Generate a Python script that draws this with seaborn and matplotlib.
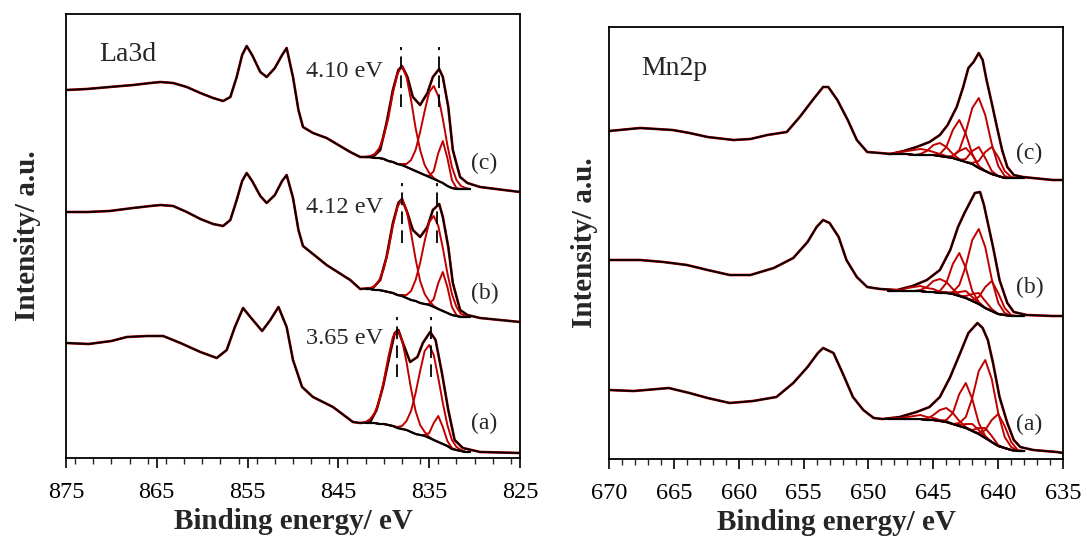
import numpy as np
import matplotlib.pyplot as plt
from matplotlib.ticker import MultipleLocator
import seaborn as sns

# ---------------- La3d panel ----------------
la_ticks = [875, 865, 855, 845, 835, 825]

la_c_e = [875.0, 872.7, 870.2, 867.6, 865.7, 864.6, 863.2, 861.7, 860.2, 858.8, 857.7, 856.9, 856.2, 855.6,
          855.1, 854.5, 853.6, 852.9, 852.0, 851.2, 850.7, 850.0, 849.4, 848.9, 847.8, 846.3, 843.7, 842.6,
          841.2, 840.4, 839.7, 839.0, 838.4, 838.0, 837.4, 836.8, 836.0, 835.2, 834.6, 833.9, 833.5, 832.9,
          832.4, 831.6, 830.8, 829.4, 825.0]
la_c_i = [368, 369, 371, 373, 375, 376, 375, 371, 365, 360, 357, 361, 381, 403,
          412, 403, 386, 381, 390, 403, 410, 381, 348, 331, 325, 320, 306, 301,
          301, 308, 335, 368, 388, 392, 381, 361, 353, 365, 381, 389, 381, 351,
          308, 281, 275, 271, 266]
la_b_e = la_c_e
la_b_i = [246, 246, 247, 250, 252, 253, 252, 246, 239, 234, 232, 238, 258, 277,
          285, 277, 262, 255, 263, 277, 283, 260, 228, 212, 204, 193, 178, 169,
          170, 178, 201, 235, 255, 259, 245, 228, 221, 231, 248, 254, 241, 211,
          175, 148, 143, 140, 136]
la_a_e = [875.0, 872.5, 870.0, 868.3, 866.0, 864.3, 862.4, 860.2, 858.4, 857.3, 856.4, 855.5, 854.7, 853.4,
          852.5, 851.6, 850.7, 850.0, 849.0, 847.8, 845.6, 843.4, 842.6, 841.5, 840.8, 840.1, 839.3, 838.8,
          838.4, 837.9, 837.1, 836.3, 835.7, 834.9, 834.3, 833.6, 832.9, 832.2, 831.3, 829.4, 825.0]
la_a_i = [115, 114, 117, 121, 122, 122, 115, 106, 100, 108, 131, 150, 141, 127,
          138, 151, 131, 98, 71, 61, 51, 36, 35, 36, 48, 71, 105, 125,
          128, 115, 96, 101, 115, 126, 118, 85, 48, 18, 10, 6, 5]

# fit region (background + components as height above background)
la_fit_e = [842.0, 841.5, 841.0, 840.5, 840.0, 839.5, 839.0, 838.5, 838.0, 837.5, 837.0, 836.5,
            836.0, 835.5, 835.0, 834.5, 834.0, 833.5, 833.0, 832.5, 832.0, 831.5, 831.0, 830.5]
la_bg_c = [301, 301, 300, 300, 299, 297, 296, 294, 293, 291, 289, 287, 285, 283, 281, 279, 277, 275, 272, 270, 269, 269, 269, 269]
la_bg_b = [169, 169, 168, 168, 167, 166, 165, 163, 162, 160, 158, 157, 155, 154, 153, 151, 149, 147, 145, 143, 142, 141, 141, 141]
la_bg_a = [35, 35, 35, 34, 34, 33, 32, 30, 29, 28, 26, 24, 23, 22, 20, 18, 16, 14, 12, 9, 8, 7, 6, 6]

la_c_p1 = [0, 1, 4, 10, 23, 43, 69, 90, 99, 90, 69, 43, 23, 10, 4, 1, 0, 0, 0, 0, 0, 0, 0, 0]
la_c_p2 = [0, 0, 0, 0, 0, 0, 0, 0, 1, 3, 9, 21, 41, 64, 85, 93, 85, 64, 41, 21, 9, 3, 1, 0]
la_c_p3 = [0, 0, 0, 0, 0, 0, 0, 0, 0, 0, 0, 0, 0, 0, 1, 8, 28, 42, 28, 8, 1, 0, 0, 0]
la_b_p1 = [0, 1, 4, 10, 22, 42, 67, 88, 97, 88, 67, 42, 22, 10, 4, 1, 0, 0, 0, 0, 0, 0, 0, 0]
la_b_p2 = [0, 0, 0, 0, 0, 0, 0, 0, 1, 3, 9, 21, 40, 63, 83, 91, 83, 63, 40, 21, 9, 3, 1, 0]
la_b_p3 = [0, 0, 0, 0, 0, 0, 0, 0, 0, 0, 0, 0, 0, 0, 1, 8, 26, 39, 26, 8, 1, 0, 0, 0]
la_a_p1 = [1, 4, 10, 23, 43, 68, 89, 98, 89, 68, 43, 23, 10, 4, 1, 0, 0, 0, 0, 0, 0, 0, 0, 0]
la_a_p2 = [0, 0, 0, 0, 0, 0, 0, 1, 3, 9, 21, 41, 64, 85, 93, 85, 64, 41, 21, 9, 3, 1, 0, 0]
la_a_p3 = [0, 0, 0, 0, 0, 0, 0, 0, 0, 0, 0, 0, 0, 1, 5, 17, 26, 17, 5, 1, 0, 0, 0, 0]

# dashed markers: energies and intensity span
la_dash_c = [838.1, 833.9]
la_dash_b = [838.0, 834.1]
la_dash_a = [838.5, 834.8]
la_dash_span = {"c": (351, 411), "b": (215, 275), "a": (81, 141)}
la_split = ["4.10 eV", "4.12 eV", "3.65 eV"]

# ---------------- Mn2p panel ----------------
mn_ticks = [670, 665, 660, 655, 650, 645, 640, 635]

mn_c_e = [670.0, 667.6, 665.1, 663.8, 662.4, 660.4, 659.1, 657.8, 656.3, 655.3, 654.3, 653.5, 653.1,
          652.4, 651.6, 650.9, 650.1, 649.1, 648.3, 647.3, 646.3, 645.3, 644.5, 643.9, 643.2, 642.7,
          642.3, 641.9, 641.5, 641.2, 640.9, 640.5, 640.1, 639.7, 639.3, 638.8, 638.1, 635.8, 635.0]
mn_c_i = [328, 331, 329, 326, 322, 319, 320, 324, 327, 342, 359, 372, 372,
          359, 339, 319, 307, 306, 305, 308, 312, 317, 324, 334, 352, 372,
          391, 397, 406, 399, 379, 356, 332, 309, 292, 284, 282, 279, 279]
mn_b_e = [670.0, 667.6, 665.8, 664.0, 662.4, 660.7, 659.1, 657.3, 655.8, 654.7, 654.0, 653.5, 653.0,
          652.3, 651.7, 650.9, 650.1, 649.1, 647.8, 646.6, 645.5, 644.5, 643.7, 643.1, 642.6, 642.2,
          641.8, 641.4, 641.1, 640.8, 640.4, 639.9, 639.3, 638.8, 637.8, 635.8, 635.0]
mn_b_i = [199, 199, 197, 194, 189, 184, 184, 191, 201, 217, 232, 239, 236,
          222, 199, 182, 172, 170, 169, 173, 179, 189, 209, 232, 246, 256,
          266, 267, 254, 236, 212, 179, 156, 147, 144, 143, 143]
mn_a_e = [670.0, 668.1, 665.4, 663.8, 662.4, 660.7, 658.9, 657.1, 655.8, 654.7, 653.9, 653.5, 652.7,
          652.0, 651.2, 650.4, 649.6, 648.9, 647.6, 646.3, 645.3, 644.5, 643.7, 642.9, 642.3, 641.6,
          641.2, 640.8, 640.4, 639.9, 639.3, 638.8, 638.3, 637.3, 635.5, 635.0]
mn_a_i = [69, 68, 71, 66, 61, 56, 58, 62, 76, 92, 106, 111, 106,
          86, 62, 49, 41, 40, 42, 47, 52, 62, 82, 107, 126, 136,
          131, 119, 96, 62, 36, 19, 12, 9, 7, 6]

mn_fit_e = [648.5, 648.0, 647.5, 647.0, 646.5, 646.0, 645.5, 645.0, 644.5, 644.0, 643.5,
            643.0, 642.5, 642.0, 641.5, 641.0, 640.5, 640.0, 639.5, 639.0, 638.5, 638.0]
mn_bg_c = [305, 305, 305, 305, 304, 304, 304, 304, 303, 302, 301, 299, 297, 295, 291, 288, 285, 283, 281, 281, 281, 281]
mn_bg_b = [168, 168, 168, 168, 168, 168, 167, 167, 166, 166, 165, 163, 161, 158, 155, 151, 148, 145, 144, 143, 143, 143]
mn_bg_a = [40, 40, 40, 40, 40, 40, 39, 39, 38, 37, 35, 33, 31, 28, 25, 21, 17, 13, 11, 9, 8, 8]

mn_c_comps = [
    [0, 0, 0, 0, 0, 0, 0, 0, 0, 0, 2, 10, 30, 56, 70, 56, 30, 10, 2, 0, 0, 0],
    [0, 0, 0, 0, 0, 0, 0, 0, 2, 10, 28, 40, 28, 10, 2, 0, 0, 0, 0, 0, 0, 0],
    [0, 0, 0, 0, 0, 1, 4, 10, 13, 10, 4, 1, 0, 0, 0, 0, 0, 0, 0, 0, 0, 0],
    [0, 1, 2, 3, 5, 6, 5, 3, 2, 1, 0, 0, 0, 0, 0, 0, 0, 0, 0, 0, 0, 0],
    [0, 0, 0, 0, 0, 0, 0, 0, 0, 0, 0, 0, 0, 1, 7, 19, 27, 19, 7, 1, 0, 0],
    [0, 0, 0, 0, 0, 0, 0, 0, 0, 0, 2, 9, 14, 9, 2, 0, 0, 0, 0, 0, 0, 0],
    [0, 0, 0, 0, 0, 0, 0, 0, 0, 0, 0, 0, 3, 13, 21, 13, 3, 0, 0, 0, 0, 0],
]
mn_b_comps = [
    [0, 0, 0, 0, 0, 0, 0, 0, 0, 0, 2, 11, 32, 61, 75, 61, 32, 11, 2, 0, 0, 0],
    [0, 0, 0, 0, 0, 0, 0, 0, 2, 10, 30, 43, 30, 10, 2, 0, 0, 0, 0, 0, 0, 0],
    [0, 0, 0, 0, 0, 1, 5, 11, 14, 11, 5, 1, 0, 0, 0, 0, 0, 0, 0, 0, 0, 0],
    [0, 1, 1, 3, 4, 5, 4, 3, 1, 1, 0, 0, 0, 0, 0, 0, 0, 0, 0, 0, 0, 0],
    [0, 0, 0, 0, 0, 0, 0, 0, 0, 0, 0, 0, 0, 1, 7, 21, 30, 21, 7, 1, 0, 0],
    [0, 0, 0, 0, 0, 0, 0, 0, 0, 0, 1, 4, 7, 4, 1, 0, 0, 0, 0, 0, 0, 0],
    [0, 0, 0, 0, 0, 0, 0, 0, 0, 0, 0, 0, 2, 7, 11, 7, 2, 0, 0, 0, 0, 0],
]
mn_a_comps = [
    [0, 0, 0, 0, 0, 0, 0, 0, 0, 0, 0, 3, 11, 33, 63, 78, 63, 33, 11, 3, 0, 0],
    [0, 0, 0, 0, 0, 0, 0, 0, 0, 2, 11, 32, 45, 32, 11, 2, 0, 0, 0, 0, 0, 0],
    [0, 0, 0, 0, 0, 0, 1, 5, 11, 14, 11, 5, 1, 0, 0, 0, 0, 0, 0, 0, 0, 0],
    [0, 1, 1, 2, 3, 4, 3, 2, 1, 1, 0, 0, 0, 0, 0, 0, 0, 0, 0, 0, 0, 0],
    [0, 0, 0, 0, 0, 0, 0, 0, 0, 0, 0, 0, 0, 0, 1, 8, 22, 32, 22, 8, 1, 0],
    [0, 0, 0, 0, 0, 0, 0, 0, 0, 0, 0, 1, 4, 7, 4, 1, 0, 0, 0, 0, 0, 0],
    [0, 0, 0, 0, 0, 0, 0, 0, 0, 0, 0, 0, 0, 1, 6, 10, 6, 1, 0, 0, 0, 0],
]

RED = "#c00000"

sns.set_theme(style="ticks")
plt.rcParams["font.family"] = ["Liberation Serif", "DejaVu Serif"]


def draw_spectrum(ax, e, i, fit_e, bg, comps):
    sns.lineplot(x=e, y=i, ax=ax, color=RED, linewidth=1.9, sort=False)
    sns.lineplot(x=e, y=i, ax=ax, color="black", linewidth=1.3, sort=False)
    for c in comps:
        sns.lineplot(x=fit_e, y=np.add(bg, c), ax=ax, color=RED, linewidth=1.4, sort=False)
    sns.lineplot(x=fit_e, y=bg, ax=ax, color="black", linewidth=1.6, sort=False)


def style_axes(ax, ticks, minor, ylim):
    ax.set_xlim(ticks[0], ticks[-1])
    ax.set_ylim(*ylim)
    ax.set_xticks(ticks)
    ax.set_xticklabels([str(t) for t in ticks])
    ax.xaxis.set_minor_locator(MultipleLocator(minor))
    ax.set_yticks([])
    ax.tick_params(axis="x", which="major", direction="out", length=7, width=1.2,
                   labelsize=17.5, pad=10, colors="black")
    ax.tick_params(axis="x", which="minor", direction="out", length=4, width=1.0)
    for s in ax.spines.values():
        s.set_visible(True)
        s.set_linewidth(1.3)
        s.set_color("black")
    ax.set_xlabel("Binding energy/ eV", fontsize=21, fontweight="bold", labelpad=4)
    ax.set_ylabel("Intensity/ a.u.", fontsize=21, fontweight="bold")


fig = plt.figure(figsize=(10.87, 5.39), dpi=100)
ax1 = fig.add_axes([0.0607, 0.1503, 0.4177, 0.8237])
ax2 = fig.add_axes([0.5603, 0.1484, 0.4177, 0.8015])

# La3d
draw_spectrum(ax1, la_c_e, la_c_i, la_fit_e, la_bg_c, [la_c_p1, la_c_p2, la_c_p3])
draw_spectrum(ax1, la_b_e, la_b_i, la_fit_e, la_bg_b, [la_b_p1, la_b_p2, la_b_p3])
draw_spectrum(ax1, la_a_e, la_a_i, la_fit_e, la_bg_a, [la_a_p1, la_a_p2, la_a_p3])
for key, xs in zip(["c", "b", "a"], [la_dash_c, la_dash_b, la_dash_a]):
    lo, hi = la_dash_span[key]
    ax1.vlines(xs, lo, hi, colors="black", linewidth=1.3, linestyles=(0, (7, 3.5)))
for txt, y in zip(la_split, [387, 251, 119]):
    ax1.text(848.6, y, txt, fontsize=17.5, va="center", ha="left")
ax1.text(871.3, 404, "La3d", fontsize=20, va="center", ha="left")
for lab, y in zip(["(c)", "(b)", "(a)"], [295, 165, 35]):
    ax1.text(830.4, y, lab, fontsize=17, va="center", ha="left")
style_axes(ax1, la_ticks, 2, (0, 444))
ax1.yaxis.labelpad = 18

# Mn2p
draw_spectrum(ax2, mn_c_e, mn_c_i, mn_fit_e, mn_bg_c, mn_c_comps)
draw_spectrum(ax2, mn_b_e, mn_b_i, mn_fit_e, mn_bg_b, mn_b_comps)
draw_spectrum(ax2, mn_a_e, mn_a_i, mn_fit_e, mn_bg_a, mn_a_comps)
ax2.text(667.5, 391, "Mn2p", fontsize=20, va="center", ha="left")
for lab, y in zip(["(c)", "(b)", "(a)"], [306, 172, 35]):
    ax2.text(638.6, y, lab, fontsize=17, va="center", ha="left")
style_axes(ax2, mn_ticks, 1, (0, 432))
ax2.yaxis.labelpad = 8

fig.savefig("out.png", dpi=100)
